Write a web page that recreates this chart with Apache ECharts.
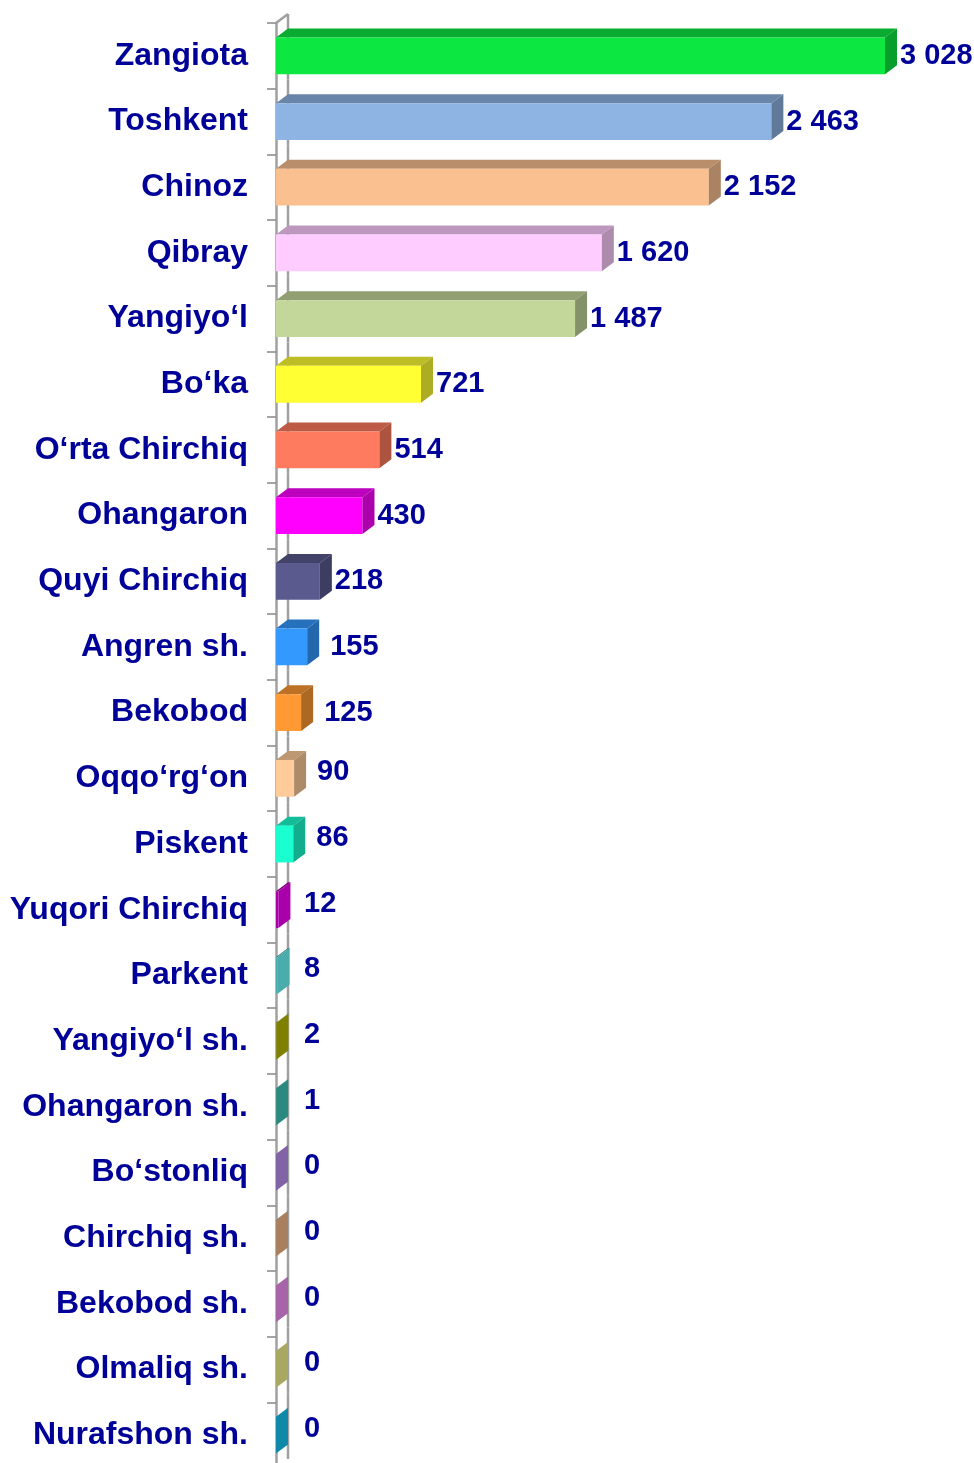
<!DOCTYPE html>
<html>
<head>
<meta charset="utf-8">
<script src="https://cdn.jsdelivr.net/npm/echarts@6/dist/echarts.min.js"></script>
<style>
  html, body { margin: 0; padding: 0; background: #fff; }
  #container { width: 974px; height: 1463px; }
</style>
</head>
<body>
<div id="container"></div>
<script>
// districts, top to bottom
var districts = ['Zangiota', 'Toshkent', 'Chinoz', 'Qibray', 'Yangiyo‘l', 'Bo‘ka',
    'O‘rta Chirchiq', 'Ohangaron', 'Quyi Chirchiq', 'Angren sh.', 'Bekobod', 'Oqqo‘rg‘on',
    'Piskent', 'Yuqori Chirchiq', 'Parkent', 'Yangiyo‘l sh.', 'Ohangaron sh.', 'Bo‘stonliq',
    'Chirchiq sh.', 'Bekobod sh.', 'Olmaliq sh.', 'Nurafshon sh.'];
var counts = [3028, 2463, 2152, 1620, 1487, 721, 514, 430, 218, 155, 125, 90,
    86, 12, 8, 2, 1, 0, 0, 0, 0, 0];

var barColors = ['#0ce841', '#8eb4e3', '#fac090', '#ffccff', '#c4d79b', '#ffff33',
    '#ff7b60', '#ff00ff', '#5a5a8f', '#3399ff', '#ff9933', '#ffcc99',
    '#1affd0', '#aa00aa', '#4aacac', '#808000', '#2a8a80', '#8064a6',
    '#a88060', '#a864a8', '#a8a860', '#1088a8'];

var DX = 12, DY = 9; // 3d depth
var wallColor = '#a0a0a0';

function shade(hex, k) {
    var n = parseInt(hex.slice(1), 16);
    var r = Math.round(((n >> 16) & 255) * k),
        g = Math.round(((n >> 8) & 255) * k),
        b = Math.round((n & 255) * k);
    return 'rgb(' + r + ',' + g + ',' + b + ')';
}

// format 3028 -> "3 028"
function fmt(v) {
    return String(v).replace(/\B(?=(\d{3})+(?!\d))/g, ' ');
}

function renderItem(params, api) {
    var i = params.dataIndex;
    var v = api.value(0), cat = api.value(1);
    var p0 = api.coord([0, cat]);
    var p1 = api.coord([v, cat]);
    var band = api.size([0, 1])[1];
    var h = band * 0.56;
    var x0 = p0[0], x1 = p1[0], yc = p0[1];
    var yT = yc - h / 2, yB = yc + h / 2;
    var c = barColors[i];
    var tiny = (x1 - x0) < 4;
    var kids = [];

    // back wall line for this band
    var bTop = yc - band / 2, bBot = yc + band / 2;
    kids.push({type: 'line', shape: {x1: x0 + DX, y1: bTop - DY, x2: x0 + DX, y2: bBot - DY},
        style: {stroke: wallColor, lineWidth: 2.5}});
    if (i === 0) {
        kids.push({type: 'line', shape: {x1: x0, y1: bTop, x2: x0 + DX, y2: bTop - DY},
            style: {stroke: wallColor, lineWidth: 2.5}});
    }
    // top face
    kids.push({type: 'polygon', shape: {points: [[x0, yT], [x1, yT], [x1 + DX, yT - DY], [x0 + DX, yT - DY]]},
        style: {fill: shade(c, 0.74)}});
    // front face
    kids.push({type: 'rect', shape: {x: x0, y: yT, width: x1 - x0, height: h},
        style: {fill: c}});
    // side face
    kids.push({type: 'polygon', shape: {points: [[x1, yT], [x1 + DX, yT - DY], [x1 + DX, yB - DY], [x1, yB]]},
        style: {fill: tiny ? c : shade(c, 0.68)}});
    // value label
    var lx = x1 + DX + 3;
    if (lx > x0 + 27) {
        if (v < 200) lx += 8;
    } else {
        lx = x0 + 28;
    }
    var ly = v < 100 ? yc - 6 : yc;
    kids.push({type: 'text', x: lx, y: ly,
        style: {text: fmt(v), fill: '#000099', font: 'bold 29px "Liberation Sans", Arial, sans-serif',
            align: 'left', verticalAlign: 'middle'}});
    return {type: 'group', children: kids};
}

var dom = document.getElementById('container');
var myChart = echarts.init(dom, null, {renderer: 'canvas'});
var seriesData = [];
for (var k = 0; k < counts.length; k++) {
    seriesData.push([counts[k], k]);
}

var option = {
    animation: false,
    grid: {left: 276, top: 23, width: 609, height: 1445, outerBoundsMode: 'none', containLabel: false},
    xAxis: {
        type: 'value', min: 0, max: 3028,
        show: false, splitLine: {show: false}
    },
    yAxis: {
        type: 'category', inverse: true,
        data: districts,
        axisLine: {show: true, lineStyle: {color: wallColor, width: 2.5}},
        axisTick: {show: true, length: 9, lineStyle: {color: '#888', width: 1.5}},
        axisLabel: {
            margin: 28,
            color: '#000099',
            fontSize: 32,
            fontWeight: 'bold',
            fontFamily: '"Liberation Sans", Arial, sans-serif'
        }
    },
    series: [{
        type: 'custom',
        renderItem: renderItem,
        encode: {x: 0, y: 1},
        clip: false,
        data: seriesData
    }]
};
myChart.setOption(option, true);
</script>
</body>
</html>
